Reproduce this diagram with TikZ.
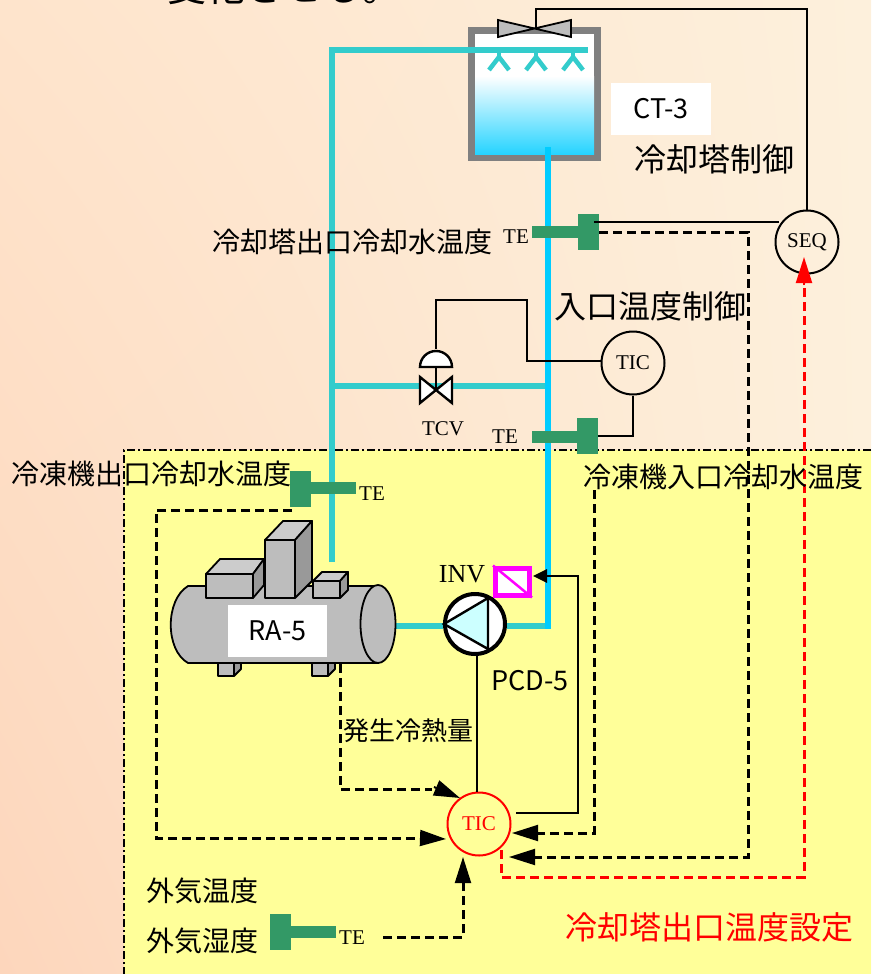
\documentclass[tikz,border=0pt]{standalone}
\usepackage{fontspec}
\setmainfont{Liberation Serif}
\newfontfamily\jpfont{Noto Sans CJK JP}
\usetikzlibrary{arrows, arrows.meta, shadings}

\definecolor{tegreen}{HTML}{339966}
\definecolor{coolpipe}{HTML}{33CCCC}
\definecolor{hotpipe}{HTML}{00CCFF}
\definecolor{zoneyellow}{HTML}{FFFF99}
\definecolor{machgray}{HTML}{BDBDBD}
\definecolor{machdark}{HTML}{999999}
\definecolor{machlight}{HTML}{CCCCCC}
\definecolor{bgbotleft}{HTML}{FDD6BC}
\definecolor{bgtopleft}{HTML}{FEE4CC}
\definecolor{bgright}{HTML}{FDF0DC}
\definecolor{invpink}{HTML}{FF00FF}
\definecolor{pumpblue}{HTML}{CCFFFF}
\definecolor{alarmred}{HTML}{FF0000}

\tikzset{
  signal/.style={black,line width=2.4pt},
  dashsig/.style={black,line width=3pt,dash pattern=on 9pt off 5pt},
  redsig/.style={alarmred,line width=3pt,dash pattern=on 9pt off 5pt},
  bigtip/.style={-{Triangle[length=26pt,width=16pt]}},
  coolline/.style={coolpipe,line width=6.5pt},
  hotline/.style={hotpipe,line width=6.5pt},
  sprayline/.style={coolpipe,line width=4.5pt},
  teblock/.style={fill=tegreen,inner sep=0pt,minimum width=21pt,minimum height=36pt},
  tebar/.style={fill=tegreen,inner sep=0pt,minimum width=46pt,minimum height=12pt},
  instr/.style={circle,draw=black,line width=2pt,inner sep=0pt,minimum size=63pt,font=\fontsize{21pt}{23pt}\selectfont},
  serifte/.style={inner sep=0pt,font=\fontsize{21pt}{23pt}\selectfont},
  jptext/.style={inner sep=0pt,font=\jpfont\fontsize{28pt}{30pt}\selectfont},
  jpbig/.style={inner sep=0pt,font=\jpfont\fontsize{32pt}{34pt}\selectfont},
  tagbox/.style={fill=white,inner sep=0pt,minimum width=100pt,minimum height=52pt,font=\jpfont\fontsize{27pt}{29pt}\selectfont},
  machine/.style={draw=black,line width=1.8pt,fill=machgray,line join=round},
}

\begin{document}
\begin{tikzpicture}[x=1pt,y=-1pt]
\useasboundingbox (0,0) rectangle (871,974);
\clip (0,0) rectangle (871,974);

\shade[lower left=bgbotleft,upper left=bgtopleft,lower right=bgright,upper right=bgright] (0,0) rectangle (871,974);
\fill[zoneyellow] (124,450) rectangle (871,974);
\draw[black,line width=2pt,dash pattern=on 8pt off 3pt on 2pt off 3pt] (871,450) -- (124,450) -- (124,974);

\node[font=\jpfont\fontsize{39pt}{41pt}\selectfont,inner sep=0pt] (headline) at (284,-13) {変化させる。};

% cooling tower
\fill[gray] (468,27) rectangle (601,161);
\fill[white] (475,34) rectangle (594,76);
\shade[top color=white,bottom color=hotpipe!85!white] (475,76) rectangle (594,154);

\draw[coolline] (332,562) -- (332,50) -- (588,50);
\draw[coolline] (332,386) -- (548,386);
\draw[coolline] (395,626) -- (443,626);
\draw[coolline] (507,626) -- (548,626);
\draw[hotline] (548,147) -- (548,629);

\foreach \sx in {499,536,573} {
  \draw[sprayline] (\sx,52) -- (\sx,59);
  \draw[sprayline] (\sx-10,70) -- (\sx,57) -- (\sx+10,70);
}

\node[tagbox] (ctlabel) at (661,109) {CT-3};
\draw[black,line width=1.8pt,fill=machgray] (498,20) -- (498,37) -- (571,20) -- (571,37) -- cycle;

% sensors
\node[tebar] (tebar1) at (555,232) {};
\node[teblock] (te1) at (588.5,232) {};
\node[tebar] (tebar2) at (555,437) {};
\node[teblock] (te2) at (587.5,436) {};
\node[tebar] (tebar3) at (333,488) {};
\node[teblock] (te3) at (300.5,488.5) {};
\node[tebar] (tebar4) at (313,932) {};
\node[teblock] (te4) at (280.5,932) {};

\node[serifte] (telabel1) at (516,237) {TE};
\node[serifte] (telabel2) at (505,437) {TE};
\node[serifte] (telabel3) at (372,494) {TE};
\node[serifte] (telabel4) at (352,938) {TE};

% instruments
\node[instr] (seq) at (807,242) {SEQ};
\node[instr] (tic1) at (633,363) {TIC};
\node[instr,draw=alarmred,text=alarmred] (tic2) at (479,824) {TIC};

\coordinate (seqtop) at (536,28);
\coordinate (seqleft) at (779,222);
\coordinate (te1top) at (594,222);
\coordinate (tic1left) at (601,361);
\coordinate (tcvtop) at (436,349);
\coordinate (tcvmid) at (436,390);
\coordinate (pumpbot) at (477,655);
\coordinate (invin) at (533,576);
\coordinate (ticend1) at (446,839);
\coordinate (ticend2) at (460,798);
\coordinate (ticend3) at (463,857);
\coordinate (ticend4) at (512,833);
\coordinate (ticend5) at (509,857);
\coordinate (ticout) at (516,813);
\coordinate (redstart) at (501,850);
\coordinate (redend) at (804,257);
\coordinate (dashstart) at (594,490);
\coordinate (te3start) at (292,510);
\coordinate (ramstart) at (340,664);
\coordinate (te4start) at (383,937);

\draw[signal] (seq.north) -- (807,9) -- (536,9) -- (seqtop);
\draw[signal] (seqleft) -- (te1top);
\draw[signal] (tic1left) -- (527,361) -- (527,300) -- (436,300) -- (tcvtop);
\draw[signal] (tic1.south) -- (633,436) -- (te2.east);
\draw[signal] (pumpbot) -- (tic2.north -| pumpbot);
\draw[signal,line width=2.8pt,-{Triangle[length=14pt,width=13pt]}] (ticout) -- (578,813) -- (578,576) -- (invin);

\draw[dashsig] (te1.east) -- (748,232) -- (748,857) -- (535,857);
\draw[dashsig] (te3start) -- (156,510) -- (156,838) -- (420,838);
\draw[dashsig] (dashstart) -- (594,833) -- (538,833);
\draw[dashsig] (ramstart) -- (340,789) -- (432,789);
\draw[dashsig] (te4start) -- (463,937) -- (463,883);

\draw[black,line width=2pt,bigtip] (420,838) -- (ticend1);
\draw[black,line width=2pt,bigtip] (434,787) -- (ticend2);
\draw[black,line width=2pt,bigtip] (463,883) -- (ticend3);
\draw[black,line width=2pt,bigtip] (538,833) -- (ticend4);
\draw[black,line width=2pt,bigtip] (535,857) -- (ticend5);

\draw[redsig] (redstart) -- (501,877) -- (804,877) -- (804,283);
\draw[alarmred,line width=2pt,bigtip] (804,285) -- (redend);

% control valve
\draw[signal,fill=white] (420,377) -- (420,403) -- (452,377) -- (452,403) -- cycle;
\draw[signal,fill=white] (420,367) arc[start angle=180,end angle=0,radius=16pt] -- cycle;
\draw[signal] (436,367) -- (tcvmid);
\node[serifte] (tcvlabel) at (443,429) {TCV};

% refrigerator
\draw[machine] (188,586) .. controls (165,600) and (165,650) .. (188,663) -- (378,663) -- (378,586) -- cycle;
\draw[machine] (378,624) ellipse [x radius=17.5pt,y radius=39pt];
\draw[machine] (218,663) rectangle (234,676);
\draw[machine,fill=machdark] (234,676) -- (241,669) -- (241,663) -- (234,663) -- cycle;
\draw[machine] (312,663) rectangle (328,676);
\draw[machine,fill=machdark] (328,676) -- (335,669) -- (335,663) -- (328,663) -- cycle;

\draw[machine] (206,574) rectangle (253,598);
\draw[machine,fill=machlight] (206,574) -- (220,559) -- (264,559) -- (253,574) -- cycle;
\draw[machine,fill=machdark] (253,574) -- (264,559) -- (264,585) -- (253,598) -- cycle;

\draw[machine] (265,540) rectangle (295,598);
\draw[machine,fill=machlight] (265,540) -- (283,521) -- (312,521) -- (295,540) -- cycle;
\draw[machine,fill=machdark] (295,540) -- (312,521) -- (312,581) -- (295,598) -- cycle;

\draw[machine] (313,581) rectangle (340,598);
\draw[machine,fill=machlight] (313,581) -- (322,572) -- (348,572) -- (340,581) -- cycle;
\draw[machine,fill=machdark] (340,581) -- (348,572) -- (348,590) -- (340,598) -- cycle;

\node[tagbox,minimum width=99pt] (ralabel) at (277.5,631) {RA-5};

% pump and inverter
\node[circle,draw=black,line width=4pt,fill=white,inner sep=0pt,minimum size=60pt] (pump) at (475,624) {};
\draw[signal,fill=pumpblue] (488,598) -- (488,649) -- (444,624) -- cycle;
\node[draw=invpink,line width=5pt,fill=white,inner sep=0pt,minimum width=34pt,minimum height=27pt] (invbox) at (512.5,581.5) {};
\draw[invpink,line width=2.5pt] (invbox.north west) -- (invbox.south east);
\node[inner sep=0pt,font=\fontsize{26pt}{28pt}\selectfont] (invlabel) at (462,574) {INV};
\node[inner sep=0pt,font=\jpfont\fontsize{27pt}{29pt}\selectfont] (pcdlabel) at (530,681) {PCD-5};

% labels
\node[jpbig] (towerctl) at (714,159) {冷却塔制御};
\node[jpbig] (inletctl) at (650,306) {入口温度制御};
\node[jptext] (towerout) at (352,242) {冷却塔出口冷却水温度};
\node[jptext] (chillout) at (151,474) {冷凍機出口冷却水温度};
\node[jptext] (chillin) at (723,477) {冷凍機入口冷却水温度};
\node[inner sep=0pt,font=\jpfont\fontsize{26pt}{28pt}\selectfont] (coldqty) at (408,731) {発生冷熱量};
\node[jptext] (airtemp) at (202,891) {外気温度};
\node[jptext] (airhum) at (202,941) {外気湿度};
\node[jpbig,text=alarmred] (setpoint) at (709,927) {冷却塔出口温度設定};

\end{tikzpicture}
\end{document}
